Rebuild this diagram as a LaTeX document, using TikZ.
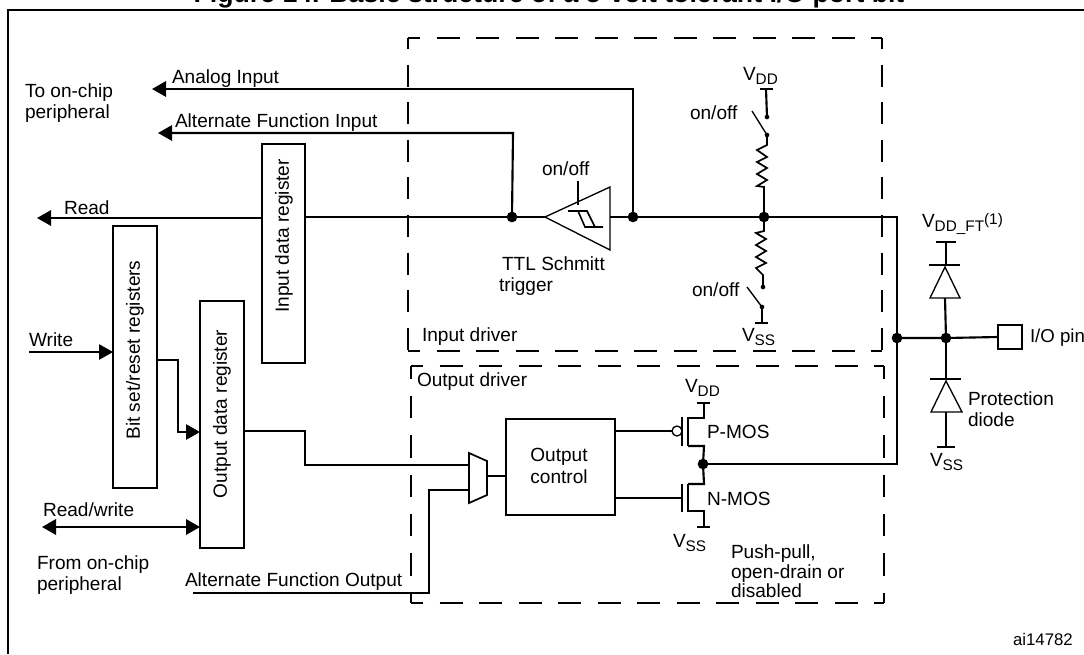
\documentclass[tikz,border=0pt]{standalone}
\usepackage{fontspec}
\setmainfont{Liberation Sans}
\usetikzlibrary{arrows.meta,calc}
\tikzset{
  lbl/.style={inner sep=0pt,outer sep=0pt,font=\fontsize{14.3}{15.8}\selectfont,anchor=base west},
  mlbl/.style={inner sep=0pt,outer sep=0pt,font=\fontsize{14.3}{15.8}\selectfont,anchor=north west,align=left},
  wire/.style={line width=1.6pt,black},
  thin wire/.style={line width=1.3pt,black},
  regbox/.style={draw=black,line width=1.6pt,fill=white,inner sep=0pt,outer sep=0pt},
  regtext/.style={inner sep=0pt,outer sep=0pt,font=\fontsize{14.3}{15.8}\selectfont,rotate=90},
  drvh/.style={line width=1.6pt,black,dash pattern=on 17.25pt off 12.4pt,dash phase=8.25pt},
  drvv/.style={line width=1.6pt,black,dash pattern=on 16.5pt off 11.7pt,dash phase=8.25pt},
  drvw/.style={line width=1.6pt,black,dash pattern=on 16.9pt off 12.6pt,dash phase=7.1pt},
  jdot/.style={circle,fill=black,inner sep=0pt,minimum size=8pt},
  sdot/.style={circle,fill=black,inner sep=0pt,minimum size=3.5pt},
  arr/.style={-{Triangle[length=10.5pt,width=11.5pt]}},
  barr/.style={{Triangle[length=10.5pt,width=11.5pt]}-{Triangle[length=10.5pt,width=11.5pt]}},
}
\newcommand{\supply}[1]{V\raisebox{-3pt}{\fontsize{11.5}{13}\selectfont #1}}
\begin{document}
\begin{tikzpicture}[x=0.75pt,y=-0.75pt]
\useasboundingbox (0,0) rectangle (1084,654);
\clip (0,0) rectangle (1084,654);
% frame
\coordinate (fa) at (8,654); \coordinate (fb) at (8,10); \coordinate (fc) at (1084,10);
\draw[line width=1.6pt] (fa) -- (fb) -- (fc);
\node[anchor=base,inner sep=0pt,font=\bfseries\fontsize{20}{22}\selectfont] (title) at (549,2.5) {Figure 14. Basic structure of a 5-volt tolerant I/O port bit};
% driver boxes
\coordinate (ia) at (408,38); \coordinate (ib) at (882,38); \coordinate (ic) at (882,351); \coordinate (id) at (408,351);
\draw[drvh] (ia) -- (ib);
\draw[drvh] (id) -- (ic);
\draw[drvv] (ia) -- (id);
\draw[drvv] (ib) -- (ic);
\coordinate (oa) at (411,366); \coordinate (ob) at (884,366); \coordinate (oc) at (884,603); \coordinate (od) at (411,603);
\draw[drvh] (oa) -- (ob);
\draw[drvh] (od) -- (oc);
\draw[drvw] (oa) -- (od);
\draw[drvw] (ob) -- (oc);
% coordinates
\coordinate (readtip) at (37,218);
\coordinate (j1) at (512,217);
\coordinate (j2) at (633,217);
\coordinate (j3) at (764,217);
\coordinate (railtop) at (897,217);
\coordinate (railmid) at (897,338);
\coordinate (railbot) at (897,464);
\coordinate (j5) at (946,338);
\coordinate (j6) at (703,464);
\coordinate (aitip) at (152,89);
\coordinate (aftip) at (158,133);
\coordinate (aicorner) at (633,89);
\coordinate (afcorner) at (513,133);
% registers
\node[regbox,minimum width=32.25pt,minimum height=164.25pt] (indata) at (283.5,253.5) {};
\node[regtext] (indatat) at (284,236) {Input data register};
\node[regbox,minimum width=33pt,minimum height=196.5pt] (bitset) at (135,357) {};
\node[regtext] (bitsett) at (135,350) {Bit set/reset registers};
\node[regbox,minimum width=33pt,minimum height=185.25pt] (outdata) at (222,424.5) {};
\node[regtext] (outdatat) at (222,414) {Output data register};
\node[regbox,minimum width=81.75pt,minimum height=72pt] (octrl) at (560.5,467) {};
\node[font=\fontsize{14.3}{17}\selectfont,align=center,inner sep=0pt] (octrlt) at (559,466) {Output\\control};
% mux
\coordinate (m1) at (469,453); \coordinate (m2) at (487,461); \coordinate (m3) at (487,495); \coordinate (m4) at (469,503);
\draw[thin wire,fill=white] (m1) -- (m2) -- (m3) -- (m4) -- cycle;
% wires
\draw[wire,arr] (indata.west |- readtip) -- (readtip);
\draw[wire] (indata.east |- j1) -- (j1) -- (545,217);
\draw[wire] (610,217) -- (j2) -- (j3) -- (railtop) -- (railbot) -- (j6);
\draw[wire,arr] (j2) -- (aicorner) -- (aitip);
\draw[wire,arr] (j1) -- (afcorner) -- (aftip);
\node[lbl] (ai) at (172,83) {Analog Input};
\node[lbl] (af) at (175,127) {Alternate Function Input};
\node[lbl] (rd) at (64,214) {Read};
\node[mlbl] (toc) at (25,84) {To on-chip\\peripheral};
% write
\coordinate (wstart) at (29,352);
\draw[line width=1.3pt,arr] (wstart) -- (wstart -| bitset.west);
\node[lbl] (wr) at (29,346) {Write};
\coordinate (bs1) at (178,360); \coordinate (bs2) at (178,432);
\draw[thin wire,arr] (bitset.east |- bs1) -- (bs1) -- (bs2) -- (bs2 -| outdata.west);
% read/write
\coordinate (rw) at (42,527);
\draw[line width=1.9pt,barr] (rw) -- (rw -| outdata.west);
\node[lbl] (rwt) at (43,516) {Read/write};
\node[mlbl] (from) at (37,556) {From on-chip\\peripheral};
% output data to mux
\coordinate (od1) at (305,431); \coordinate (od2) at (305,465);
\draw[wire] (outdata.east |- od1) -- (od1) -- (od2) -- (od2 -| m1);
% alt fn output
\coordinate (afo) at (193,593); \coordinate (afo2) at (429,593); \coordinate (afo3) at (429,490);
\draw[wire] (afo) -- (afo2) -- (afo3) -- (afo3 -| m1);
\node[lbl] (afot) at (185,586) {Alternate Function Output};
\draw[thin wire] (487,476) -- (octrl.west |- 487,476);
% Schmitt trigger
\coordinate (s1) at (545,217); \coordinate (s2) at (610,187); \coordinate (s3) at (610,250);
\draw[line width=1pt] (s1) -- (s2) -- (s3) -- cycle;
\coordinate (en1) at (578,181); \coordinate (en2) at (578,205);
\draw[line width=1.3pt] (en1) -- (en2);
\draw[line width=1.2pt] (568,211) -- (587,211) -- (595,227) (603,227) -- (585,227) -- (578,211);
\node[lbl] (sw0) at (542,175) {on/off};
\node[mlbl] (ttl) at (499,257) {\hspace*{2.3pt}TTL Schmitt\\trigger};
% pull up
\node[lbl] (vdd1) at (743,80) {\supply{DD}};
\coordinate (u1) at (766,89); \coordinate (u2) at (767,117); \coordinate (u3) at (767,135);
\draw[thin wire] (760,89) -- (773,89);
\draw[wire] (u1) -- (u2);
\node[sdot] (ud2) at (u2) {};
\node[sdot] (ud3) at (u3) {};
\draw[line width=1pt] (752,111) -- (u3);
\draw[thin wire] (u3) -- (767,145) -- (757,150) -- (767,157) -- (757,162) -- (767,168) -- (757,174) -- (767,180) -- (757,186) -- (764,187) -- (j3);
\node[lbl] (sw1) at (690,119) {on/off};
% pull down
\coordinate (d1) at (763,287); \coordinate (d2) at (762,307);
\draw[thin wire] (j3) -- (764,231) -- (756,233) -- (766,239) -- (756,245) -- (766,251) -- (756,257) -- (766,263) -- (756,268) -- (763,275) -- (d1);
\node[sdot] (dd1) at (d1) {};
\node[sdot] (dd2) at (d2) {};
\draw[line width=1pt] (747,287) -- (d2);
\draw[wire] (d2) -- (762,323);
\draw[thin wire] (755,323) -- (768,323);
\node[lbl] (sw2) at (692,296) {on/off};
\node[lbl] (vss1) at (742,341) {\supply{SS}};
\node[jdot] (dj1) at (j1) {};
\node[jdot] (dj2) at (j2) {};
\node[jdot] (dj3) at (j3) {};
% labels inside
\node[lbl] (idrv) at (422,341) {Input driver};
\node[lbl] (odrv) at (417,386) {Output driver};
% P-MOS
\coordinate (pg) at (615,431);
\draw[wire] (octrl.east |- pg) -- (672,431);
\draw[line width=1pt] (677,431) circle (5);
\draw[wire] (682,417) -- (682,446);
\draw[wire] (688,417) -- (688,446);
\draw[wire] (688,418) -- (704,418) -- (704,403);
\draw[thin wire] (697,403) -- (710,403);
\draw[wire] (688,446) -- (704,446) -- (j6);
\node[lbl] (vdd2) at (685,392) {\supply{DD}};
\node[lbl] (pmos) at (707,438) {P-MOS};
% N-MOS
\draw[wire] (octrl.east |- 615,498) -- (682,498);
\draw[wire] (682,484) -- (682,512);
\draw[wire] (688,484) -- (688,512);
\draw[wire] (j6) -- (704,484) -- (688,484);
\draw[wire] (688,511) -- (704,511) -- (704,527);
\draw[thin wire] (697,527) -- (710,527);
\node[lbl] (nmos) at (707,505) {N-MOS};
\node[lbl] (vss2) at (673,547) {\supply{SS}};
\node[jdot] (dj6) at (j6) {};
\node[mlbl,font=\fontsize{14.3}{14.6}\selectfont] (pp) at (731,545) {Push-pull,\\open-drain or\\disabled};
% protection
\node[lbl] (vddft) at (922,227) {\supply{DD\_FT}\raisebox{2pt}{\fontsize{11.5}{13}\selectfont (1)}};
\draw[thin wire] (936,242) -- (956,242);
\draw[thin wire] (946,242) -- (946,265);
\draw[thin wire] (929,265) -- (960,265);
\draw[line width=1pt] (945,267) -- (930,298) -- (960,298) -- cycle;
\draw[wire] (945,298) -- (j5);
\draw[wire] (railmid) -- (j5) -- (998,337);
\draw[wire] (j5) -- (946,379);
\draw[thin wire] (930,379) -- (961,379);
\draw[line width=1pt] (946,381) -- (931,412) -- (962,412) -- cycle;
\draw[wire] (946,412) -- (946,447);
\draw[thin wire] (937,447) -- (955,447);
\node[draw=black,line width=1.3pt,minimum width=18pt,minimum height=18.5pt,inner sep=0pt,outer sep=0pt,fill=white] (pin) at (1010,337) {};
\node[lbl,font=\fontsize{14}{15.8}\selectfont] (pint) at (1030,342) {I/O pin};
\node[mlbl] (prot) at (968,392) {Protection\\diode};
\node[lbl] (vss3) at (930,466) {\supply{SS}};
\node[jdot] (dj4) at (railmid) {};
\node[jdot] (dj5) at (j5) {};
\node[lbl,font=\fontsize{12.6}{14}\selectfont] (ref) at (1013,645) {ai14782};
\end{tikzpicture}
\end{document}
